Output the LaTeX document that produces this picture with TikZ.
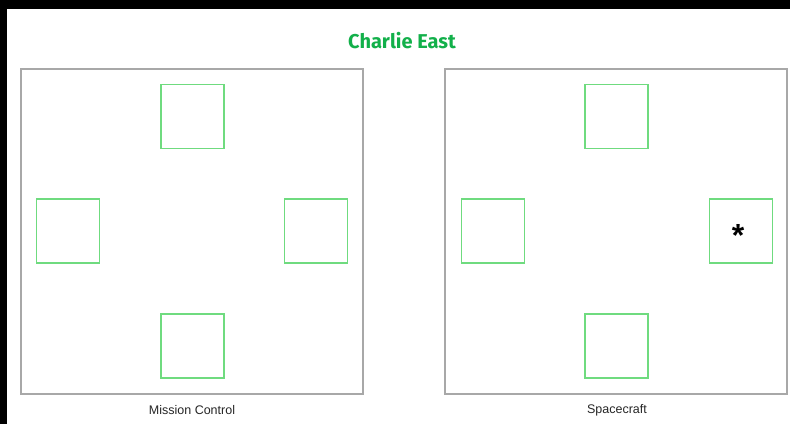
\documentclass[tikz,border=0pt]{standalone}
\usepackage{fontspec}
\setmainfont{Liberation Sans}
\newfontfamily\titlefont{Fira Sans}
\definecolor{titlegreen}{HTML}{12B04A}
\definecolor{boxgreen}{HTML}{6FDB7F}
\definecolor{framegray}{HTML}{A8A8A8}
\tikzset{
  panel/.style={draw=framegray, line width=1.3pt, fill=white},
  cell/.style={draw=boxgreen, line width=1.5pt, minimum width=63pt, minimum height=64pt, inner sep=0pt, outer sep=0pt},
  caption/.style={font=\fontsize{12.5}{14}\selectfont, text=black!85, inner sep=0pt},
}
\begin{document}
\begin{tikzpicture}[x=1pt,y=-1pt]
\useasboundingbox (0,0) rectangle (790,424);
\fill[white] (0,0) rectangle (790,424);
\fill[black] (0,0) rectangle (790,9);
\fill[black] (0,0) rectangle (7,424);
\node[font=\titlefont\bfseries\fontsize{20}{23}\selectfont, text=titlegreen, inner sep=0pt] (title) at (402,41) {Charlie East};
% left panel
\draw[panel] (21,69) rectangle (363,394);
\node[cell] (lt) at (192.5,116.5) {};
\node[cell] (ll) at (68,231) {};
\node[cell] (lr) at (316,231) {};
\node[cell] (lb) at (192.5,346) {};
\node[caption] (lcap) at (192,410) {Mission Control};
% right panel
\draw[panel] (445,69) rectangle (787,394);
\node[cell] (rt) at (616.5,116.5) {};
\node[cell] (rl) at (493,231) {};
\node[cell] (rr) at (741,231) {};
\node[font=\bfseries\fontsize{32}{32}\selectfont, inner sep=0pt] (star) at (738,235) {*};
\node[cell] (rb) at (616.5,346) {};
\node[caption] (rcap) at (617,410) {Spacecraft};
\end{tikzpicture}
\end{document}
